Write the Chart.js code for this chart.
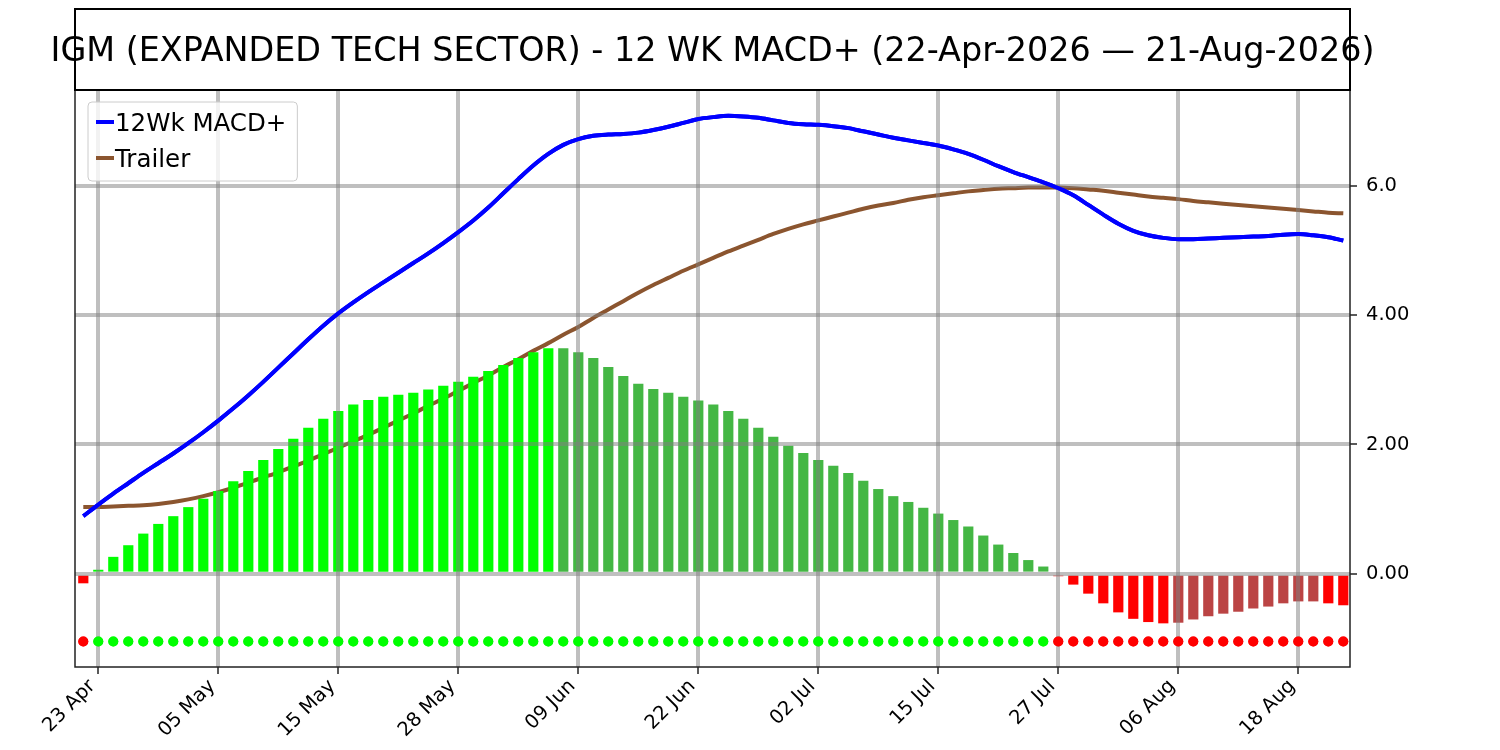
<!DOCTYPE html>
<html>
<head>
<meta charset="utf-8">
<title>IGM 12 WK MACD+</title>
<script src="https://cdn.jsdelivr.net/npm/chart.js@4.4.1/dist/chart.umd.min.js"></script>
<style>
  html, body { margin: 0; padding: 0; background: #fff; }
  canvas { display: block; }
</style>
</head>
<body>
<canvas id="macdChart" width="1500" height="750"></canvas>
<script>
// trading days, 22 Apr -> 21 Aug 2026
const dates = [
  '22 Apr', '23 Apr', '24 Apr', '27 Apr', '28 Apr', '29 Apr', '30 Apr', '01 May', '04 May', '05 May',
  '06 May', '07 May', '08 May', '11 May', '12 May', '13 May', '14 May', '15 May', '18 May', '19 May',
  '20 May', '21 May', '22 May', '26 May', '27 May', '28 May', '29 May', '01 Jun', '02 Jun', '03 Jun',
  '04 Jun', '05 Jun', '08 Jun', '09 Jun', '10 Jun', '11 Jun', '12 Jun', '15 Jun', '16 Jun', '17 Jun',
  '18 Jun', '22 Jun', '23 Jun', '24 Jun', '25 Jun', '26 Jun', '29 Jun', '30 Jun', '01 Jul', '02 Jul',
  '06 Jul', '07 Jul', '08 Jul', '09 Jul', '10 Jul', '13 Jul', '14 Jul', '15 Jul', '16 Jul', '17 Jul',
  '20 Jul', '21 Jul', '22 Jul', '23 Jul', '24 Jul', '27 Jul', '28 Jul', '29 Jul', '30 Jul', '31 Jul',
  '03 Aug', '04 Aug', '05 Aug', '06 Aug', '07 Aug', '10 Aug', '11 Aug', '12 Aug', '13 Aug', '14 Aug',
  '17 Aug', '18 Aug', '19 Aug', '20 Aug', '21 Aug'
];

const tickDates = ['23 Apr', '05 May', '15 May', '28 May', '09 Jun', '22 Jun', '02 Jul', '15 Jul', '27 Jul', '06 Aug', '18 Aug'];
const yTickValues = [0, 2, 4, 6];
const yTickLabels = ['0.00', '2.00', '4.00', '6.0'];

const histogram = [
  -0.15, 0.06, 0.26, 0.44, 0.62, 0.77, 0.89, 1.03, 1.16, 1.28,
  1.43, 1.59, 1.76, 1.93, 2.09, 2.26, 2.40, 2.52, 2.62, 2.69,
  2.74, 2.77, 2.80, 2.85, 2.91, 2.97, 3.05, 3.14, 3.23, 3.34,
  3.43, 3.49, 3.49, 3.43, 3.34, 3.20, 3.06, 2.94, 2.86, 2.80,
  2.74, 2.68, 2.62, 2.52, 2.40, 2.26, 2.12, 1.98, 1.87, 1.76,
  1.67, 1.56, 1.44, 1.31, 1.20, 1.11, 1.02, 0.93, 0.83, 0.73,
  0.59, 0.45, 0.32, 0.21, 0.11, -0.04, -0.17, -0.31, -0.46, -0.60,
  -0.70, -0.75, -0.77, -0.76, -0.71, -0.66, -0.62, -0.59, -0.54, -0.51,
  -0.46, -0.43, -0.43, -0.46, -0.49
];

const macdLine = [
  0.89, 1.07, 1.24, 1.40, 1.56, 1.71, 1.86, 2.02, 2.19, 2.37,
  2.56, 2.76, 2.97, 3.19, 3.41, 3.63, 3.84, 4.03, 4.20, 4.36,
  4.51, 4.66, 4.81, 4.96, 5.12, 5.29, 5.47, 5.67, 5.89, 6.11,
  6.32, 6.50, 6.64, 6.73, 6.78, 6.80, 6.81, 6.83, 6.87, 6.92,
  6.98, 7.04, 7.07, 7.09, 7.08, 7.06, 7.02, 6.98, 6.96, 6.95,
  6.93, 6.90, 6.85, 6.80, 6.75, 6.71, 6.67, 6.63, 6.57, 6.50,
  6.41, 6.31, 6.22, 6.14, 6.06, 5.97, 5.86, 5.71, 5.56, 5.42,
  5.31, 5.24, 5.20, 5.18, 5.18, 5.19, 5.20, 5.21, 5.22, 5.23,
  5.25, 5.26, 5.24, 5.21, 5.16
];

const trailerLine = [
  1.03, 1.03, 1.04, 1.05, 1.06, 1.08, 1.11, 1.15, 1.20, 1.26,
  1.33, 1.41, 1.49, 1.57, 1.66, 1.75, 1.85, 1.95, 2.05, 2.15,
  2.26, 2.37, 2.48, 2.60, 2.71, 2.83, 2.95, 3.07, 3.20, 3.32,
  3.45, 3.57, 3.70, 3.82, 3.96, 4.09, 4.22, 4.35, 4.47, 4.58,
  4.69, 4.79, 4.89, 4.99, 5.08, 5.17, 5.26, 5.34, 5.41, 5.47,
  5.53, 5.59, 5.65, 5.70, 5.74, 5.79, 5.83, 5.86, 5.89, 5.92,
  5.94, 5.96, 5.97, 5.98, 5.98, 5.98, 5.97, 5.95, 5.93, 5.90,
  5.87, 5.84, 5.82, 5.80, 5.77, 5.75, 5.73, 5.71, 5.69, 5.67,
  5.65, 5.63, 5.61, 5.59, 5.58
];

// the row of signal dots sits at this value
const SIGNAL_LEVEL = -1.05;

const X_MIN = -0.553;
const X_MAX = 84.447;
const Y_MIN = -1.446;
const Y_MAX = 7.49;

const GRID_COLOR = 'rgba(128,128,128,0.5)';
const AXIS_COLOR = '#222222';

const idx = dates.map((d, i) => i);
const tickIdx = tickDates.map(d => dates.indexOf(d));

// rising positive -> bright green, fading positive -> dull green, same for red below zero
const barColors = histogram.map((v, i) => {
  const prev = i > 0 ? histogram[i - 1] : null;
  if (v >= 0) return (prev !== null && v > prev) ? '#00ff00' : '#44b744';
  return (prev === null || v < prev) ? '#ff0000' : '#bb4444';
});
const dotColors = idx.map(i => macdLine[i] > trailerLine[i] ? '#00ff00' : '#ff0000');

const roundedRect = (ctx, x, y, w, h, r) => {
  ctx.beginPath();
  ctx.moveTo(x + r, y);
  ctx.arcTo(x + w, y, x + w, y + h, r);
  ctx.arcTo(x + w, y + h, x, y + h, r);
  ctx.arcTo(x, y + h, x, y, r);
  ctx.arcTo(x, y, x + w, y, r);
  ctx.closePath();
};

const frameAndLegend = {
  id: 'frameAndLegend',
  afterDraw(chart, args, opts) {
    const { ctx, chartArea: a } = chart;

    // lines and dots go back on top of the grid
    ctx.save();
    ctx.beginPath();
    ctx.rect(a.left, a.top, a.right - a.left, a.bottom - a.top);
    ctx.clip();
    chart.data.datasets.forEach((ds, i) => {
      if (ds.aboveGrid) chart.getDatasetMeta(i).controller.draw();
    });
    ctx.restore();

    ctx.save();
    ctx.strokeStyle = AXIS_COLOR;
    ctx.lineWidth = 1.5;
    ctx.strokeRect(a.left, a.top, a.right - a.left, a.bottom - a.top);

    // title box
    ctx.strokeStyle = '#000';
    ctx.lineWidth = 2;
    ctx.strokeRect(a.left, 9, a.right - a.left, a.top - 9);
    ctx.fillStyle = '#000';
    ctx.font = '33.4px "DejaVu Sans"';
    ctx.textAlign = 'center';
    ctx.textBaseline = 'alphabetic';
    ctx.fillText(opts.title, (a.left + a.right) / 2, 61);

    // legend
    const items = chart.data.datasets.filter(ds => ds.inLegend);
    ctx.font = '24.5px "DejaVu Sans"';
    const textW = Math.max(...items.map(ds => ctx.measureText(ds.label).width));
    const bx = a.left + 13, by = a.top + 12;
    const bw = 8 + 18 + 1 + textW + 11, bh = 79;
    roundedRect(ctx, bx, by, bw, bh, 4);
    ctx.fillStyle = 'rgba(255,255,255,0.8)';
    ctx.fill();
    ctx.strokeStyle = '#cccccc';
    ctx.lineWidth = 1;
    ctx.stroke();
    ctx.textAlign = 'left';
    items.forEach((ds, k) => {
      const base = by + 29 + k * 36;
      ctx.strokeStyle = ds.borderColor;
      ctx.lineWidth = 4;
      ctx.beginPath();
      ctx.moveTo(bx + 8, base - 9);
      ctx.lineTo(bx + 26, base - 9);
      ctx.stroke();
      ctx.fillStyle = '#000';
      ctx.fillText(ds.label, bx + 27, base);
    });
    ctx.restore();
  }
};

Chart.defaults.font.family = '"DejaVu Sans", sans-serif';
Chart.defaults.color = '#000';

const gridOpts = {
  color: GRID_COLOR,
  lineWidth: 4,
  z: 1,
  offset: false,
  drawTicks: true,
  tickColor: AXIS_COLOR,
  tickLength: 7,
  tickWidth: 1.5
};

new Chart(document.getElementById('macdChart'), {
  type: 'bar',
  data: {
    datasets: [
      {
        type: 'line',
        label: '12Wk MACD+',
        data: idx.map(i => ({ x: i, y: macdLine[i] })),
        borderColor: '#0000ff',
        borderWidth: 4,
        pointRadius: 0,
        cubicInterpolationMode: 'monotone',
        order: 1,
        inLegend: true,
        aboveGrid: true
      },
      {
        type: 'line',
        label: 'Trailer',
        data: idx.map(i => ({ x: i, y: trailerLine[i] })),
        borderColor: '#8b552f',
        borderWidth: 4,
        pointRadius: 0,
        cubicInterpolationMode: 'monotone',
        order: 2,
        inLegend: true
      },
      {
        type: 'bar',
        label: 'Histogram',
        data: idx.map(i => ({ x: i, y: histogram[i] })),
        backgroundColor: barColors,
        borderWidth: 0,
        barPercentage: 0.68,
        categoryPercentage: 1,
        order: 0
      },
      {
        type: 'line',
        label: 'Signal',
        data: idx.map(i => ({ x: i, y: SIGNAL_LEVEL })),
        showLine: false,
        pointRadius: 5,
        pointBackgroundColor: dotColors,
        pointBorderWidth: 0,
        order: 0,
        aboveGrid: true
      }
    ]
  },
  options: {
    responsive: false,
    animation: false,
    devicePixelRatio: 1,
    layout: { padding: { left: 75, top: 90, right: 0, bottom: 0 } },
    plugins: {
      legend: { display: false },
      title: { display: false },
      tooltip: { enabled: false },
      frameAndLegend: { title: 'IGM (EXPANDED TECH SECTOR) - 12 WK MACD+ (22-Apr-2026 \u2014 21-Aug-2026)' }
    },
    scales: {
      x: {
        type: 'linear',
        offset: false,
        min: X_MIN,
        max: X_MAX,
        afterBuildTicks: s => { s.ticks = tickIdx.map(v => ({ value: v })); },
        afterFit: s => { s.height = 83; },
        ticks: {
          autoSkip: false,
          minRotation: 45,
          maxRotation: 45,
          padding: 1,
          labelOffset: -6,
          color: '#000',
          font: { size: 19.5 },
          callback: v => dates[v]
        },
        grid: gridOpts,
        border: { display: false }
      },
      y: {
        position: 'right',
        min: Y_MIN,
        max: Y_MAX,
        afterBuildTicks: s => { s.ticks = yTickValues.map(v => ({ value: v })); },
        afterFit: s => { s.width = 150; },
        ticks: {
          padding: 9,
          color: '#000',
          font: { size: 19.5 },
          callback: (v, i) => yTickLabels[i]
        },
        grid: gridOpts,
        border: { display: false }
      }
    }
  },
  plugins: [frameAndLegend]
});
</script>
</body>
</html>
